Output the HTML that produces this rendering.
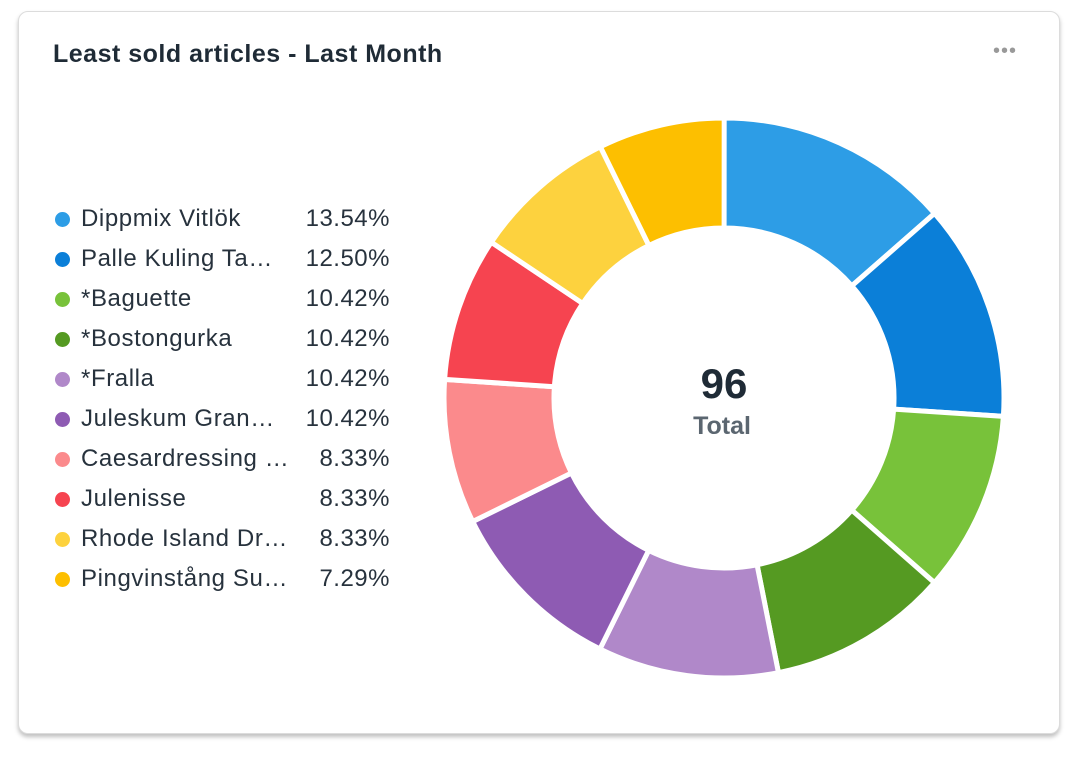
<!DOCTYPE html>
<html><head><meta charset="utf-8"><style>
body{margin:0;width:1078px;height:760px;background:#fff;font-family:"Liberation Sans",sans-serif;position:relative;overflow:hidden}
.card{position:absolute;left:18px;top:11px;width:1040px;height:721px;border:1px solid #dcdcdc;border-radius:10px;background:#fff;box-shadow:0 3px 4px rgba(0,0,0,0.25)}
.title{position:absolute;left:53px;top:40px;font-size:25px;font-weight:bold;color:#1f2b36;letter-spacing:0.5px}
.dots{position:absolute;left:993px;top:40px;font-size:20px;color:#999;letter-spacing:1px}
.leg{position:absolute;left:55px;font-size:24px;color:#27323d;height:40px;line-height:40px}
.leg i{position:absolute;left:0;top:13px;width:15px;height:15px;border-radius:50%}
.leg span.n{position:absolute;left:26px;white-space:nowrap;letter-spacing:0.6px}
.leg span.p{position:absolute;left:230px;width:105px;text-align:right;letter-spacing:0.5px}
svg{position:absolute;left:0;top:0}
</style></head><body>
<div class="card"></div>
<div class="title">Least sold articles - Last Month</div>
<div class="dots">•••</div>
<div id="legend"></div>
<svg id="s" width="1078" height="760"></svg>
<script>
var d=[["Dippmix Vitlök","13.54%",13.54,"#2d9de6"],["Palle Kuling Ta…","12.50%",12.5,"#0b7fd8"],["*Baguette","10.42%",10.42,"#78c23a"],["*Bostongurka","10.42%",10.42,"#559a22"],["*Fralla","10.42%",10.42,"#b088c9"],["Juleskum Gran…","10.42%",10.42,"#8e5bb3"],["Caesardressing …","8.33%",8.33,"#fb8a8c"],["Julenisse","8.33%",8.33,"#f64450"],["Rhode Island Dr…","8.33%",8.33,"#fdd23e"],["Pingvinstång Su…","7.29%",7.29,"#fdbf00"]];
var h="";d.forEach(function(r,i){h+='<div class="leg" style="top:'+(199+i*40)+'px"><i style="background:'+r[3]+'"></i><span class="n">'+r[0]+'</span><span class="p">'+r[1]+'</span></div>';});
document.getElementById("legend").innerHTML=h;
var cx=724,cy=398,R=280,r=170,a=-Math.PI/2,tot=99.99,s="";
function p(rad,an){return (cx+rad*Math.cos(an)).toFixed(2)+","+(cy+rad*Math.sin(an)).toFixed(2);}
d.forEach(function(x){var b=a+x[2]/tot*2*Math.PI,l=(b-a)>Math.PI?1:0;
s+='<path d="M'+p(R,a)+' A'+R+','+R+' 0 '+l+' 1 '+p(R,b)+' L'+p(r,b)+' A'+r+','+r+' 0 '+l+' 0 '+p(r,a)+' Z" fill="'+x[3]+'" stroke="#fff" stroke-width="5"/>';a=b;});
s+='<text x="724" y="398" text-anchor="middle" font-family="Liberation Sans" font-weight="bold" font-size="42" fill="#1f2b36">96</text>';
s+='<text x="722" y="434" text-anchor="middle" font-family="Liberation Sans" font-weight="bold" font-size="25" fill="#5b6670">Total</text>';
document.getElementById("s").innerHTML=s;
</script>
</body></html>
